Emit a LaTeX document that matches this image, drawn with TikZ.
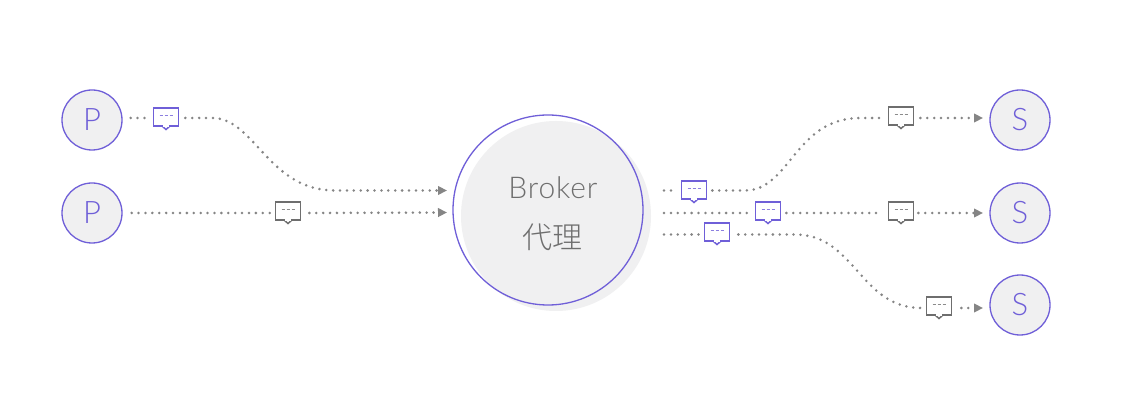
\documentclass[tikz,border=0pt]{standalone}
\usepackage{fontspec}
\setmainfont{Lato Light}
\newfontfamily\cjk{Noto Sans CJK SC Light}
\usetikzlibrary{arrows.meta}
\definecolor{pur}{HTML}{6F5FD8}
\definecolor{gr}{HTML}{6E6E6E}
\definecolor{dotc}{HTML}{858585}
\definecolor{disc}{HTML}{F0F0F1}
\tikzset{
  x=1pt,y=-1pt,
  client/.style={circle,draw=pur,fill=disc,line width=1.3pt,minimum size=60pt,inner sep=0pt,text=pur,font=\fontsize{31}{31}\selectfont},
  msgbox/.style={rectangle,draw=#1,fill=white,line width=1.7pt,minimum width=25pt,minimum height=18.5pt,inner sep=0pt},
  dots/.style={draw=dotc,line width=2.8pt,line cap=round,dash pattern=on 0pt off 6.9pt},
  tip/.style={dots,-{Triangle[length=9pt,width=8.5pt,fill=dotc,line cap=butt]}},
}
\newcommand{\msgicon}[4]{%
  \fill[white,draw=#4,line width=1.5pt,line join=miter] (#2-4,#3+9) -- (#2,#3+12.5) -- (#2+4,#3+9) -- cycle;
  \node[msgbox=#4] (#1) at (#2,#3) {};
  \fill[white] (#2-3,#3+8.1) rectangle (#2+3,#3+10);
  \draw[#4!80,line width=1pt,dash pattern=on 3pt off 2pt] (#2-6.5,#3-1) -- (#2+6.5,#3-1);
}
\begin{document}
\begin{tikzpicture}
\useasboundingbox (0,0) rectangle (1141,403);
\fill[white] (0,0) rectangle (1141,403);
\fill[disc] (556,216) circle (95);
\node[circle,draw=pur,line width=1.3pt,minimum size=190pt,inner sep=0pt] (broker) at (548,210) {};
\node[text=gr,font=\fontsize{30}{30}\selectfont\addfontfeature{LetterSpace=3}] (blabel) at (553,188) {Broker};
\node[text=gr,font=\fontsize{30}{30}\cjk] (clabel) at (552,237) {代理};
\node[client] (p1) at (92,120) {P};
\node[client] (p2) at (92,213) {P};
\node[client] (s1) at (1020,120) {S};
\node[client] (s2) at (1020,213) {S};
\node[client] (s3) at (1020,305) {S};
\coordinate (b1) at (447,190.5);
\coordinate (b2) at (447,212.5);
\coordinate (r1) at (664,190.5);
\coordinate (r2) at (664,213);
\coordinate (r3) at (664,234.5);
\coordinate (e1) at (983,118);
\coordinate (e2) at (983,213);
\coordinate (e3) at (983,308);
\msgicon{m1}{166}{117}{pur}
\msgicon{m2}{288}{211}{gr}
\msgicon{m3}{694}{190}{pur}
\msgicon{m4}{768}{211}{pur}
\msgicon{m5}{717}{232}{pur}
\msgicon{m6}{901}{116}{gr}
\msgicon{m7}{901}{211}{gr}
\msgicon{m8}{939}{306}{gr}
\draw[dots,shorten >=6pt] (p1.east |- 0,118) ++(8,0) -- (m1.west |- 0,118);
\draw[tip] (m1.east |- 0,118) ++(6,0) -- (212,118) .. controls (255,118) and (268,190.5) .. (335,190.5) -- (b1);
\draw[dots,shorten >=3pt] (p2.east |- 0,213) ++(9,0) -- (m2.west |- 0,213);
\draw[tip] (m2.east |- 0,213) ++(8,0) -- (b2);
\draw[dots,shorten >=4pt] (r1) -- (m3.west |- r1);
\draw[dots] (m3.east |- r1) ++(5,0) -- (745,190.5) .. controls (790,190.5) and (795,118) .. (860,118) -- (882,118);
\draw[tip] (m6.east |- e1) ++(6,0) -- (e1);
\draw[dots,shorten >=3pt] (r2) -- (m4.west |- r2);
\draw[dots,shorten >=5pt] (m4.east |- r2) ++(5,0) -- (m7.west |- r2);
\draw[tip] (m7.east |- e2) ++(4,0) -- (e2);
\draw[dots,shorten >=4pt] (r3) -- (m5.west |- r3);
\draw[dots] (m5.east |- r3) ++(8,0) -- (795,234.5) .. controls (855,234.5) and (860,308) .. (921,308);
\draw[tip] (m8.east |- e3) ++(9,0) -- (e3);
\end{tikzpicture}
\end{document}
